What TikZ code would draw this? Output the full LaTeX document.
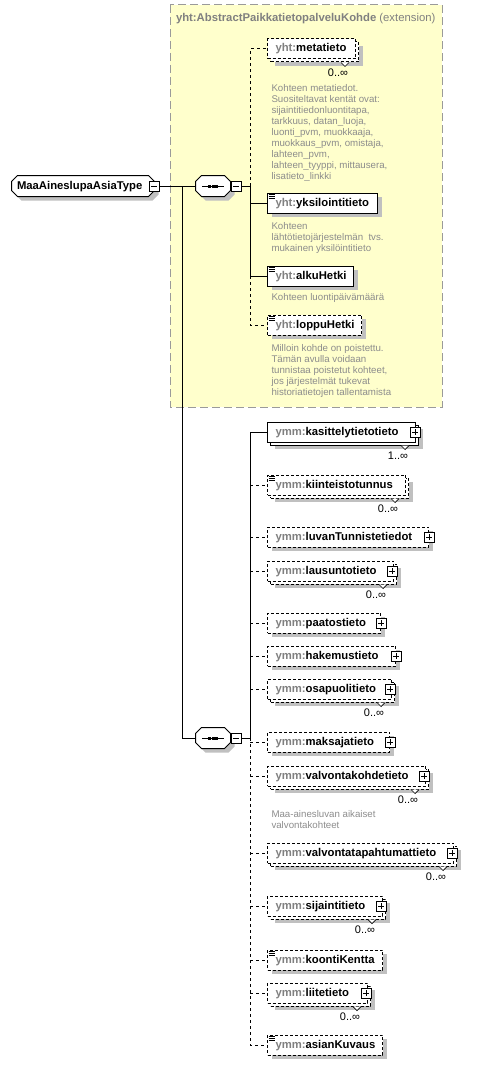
\documentclass[tikz,border=0pt]{standalone}
\usepackage{fontspec}
\setmainfont{Liberation Sans}
\usetikzlibrary{positioning, shapes.misc, shadows}

\definecolor{extyellow}{HTML}{FFFFCC}
\definecolor{extborder}{HTML}{9A9A9A}
\definecolor{pfxgray}{HTML}{808080}
\definecolor{docgray}{HTML}{8C8C8C}
\definecolor{shadowgray}{HTML}{C0C0C0}

\newcommand{\pfx}[1]{\textcolor{pfxgray}{#1}}
\newcommand{\lblfont}{\fontsize{11.3}{13}\selectfont\bfseries}
\newcommand{\docfont}{\fontsize{9.7}{11}\selectfont}
% octagon of a sequence compositor, drawn round its node
\newcommand{\seqsymbol}[1]{%
  \draw[seqshape] ([xshift=6pt]#1.north west) -- ([xshift=-6pt]#1.north east)
    -- ([yshift=-6pt]#1.north east) -- ([yshift=6pt]#1.south east)
    -- ([xshift=-6pt]#1.south east) -- ([xshift=6pt]#1.south west)
    -- ([yshift=6pt]#1.south west) -- ([yshift=-6pt]#1.north west) -- cycle;
  \draw ([xshift=-11pt]#1.center) -- ([xshift=11pt]#1.center);
  \foreach \dx in {-3.5,0,3.5}
    \fill ([xshift=\dx pt]#1.center) +(-1.5pt,-1.5pt) rectangle +(1.5pt,1.5pt);
}

\tikzset{
  elem/.style={
    draw,
    rectangle,
    fill=white,
    minimum height=20pt,
    inner xsep=8pt,
    inner ysep=0pt,
    text height=8pt,
    text depth=2pt,
    text width=#1,
    align=left,
    anchor=west,
    font=\lblfont
  },
  opt/.style={dash pattern=on 3pt off 2pt},
  single/.style={
    drop shadow={fill=shadowgray, opacity=1, shadow xshift=4pt, shadow yshift=-4pt}
  },
  multi/.style={
    drop shadow={fill=shadowgray, opacity=1, shadow xshift=7pt, shadow yshift=-7pt},
    copy shadow={draw=black, fill=white, shadow xshift=3pt, shadow yshift=-3pt}
  },
  simpletype/.style={
    path picture={
      \foreach \dy in {1.5,3.5,5.5}
        \draw[solid, line width=0.8pt] ([shift={(1pt,-\dy pt)}]path picture bounding box.north west) -- ++(6pt,0pt);
    }
  },
  expand/.style={
    draw,
    solid,
    rectangle,
    fill=white,
    minimum size=10pt,
    inner sep=0pt,
    path picture={
      \draw[solid] ([xshift=2pt]path picture bounding box.west) -- ([xshift=-2pt]path picture bounding box.east);
      \draw[solid] ([yshift=2pt]path picture bounding box.south) -- ([yshift=-2pt]path picture bounding box.north);
    }
  },
  collapse/.style={
    draw,
    rectangle,
    fill=white,
    minimum size=10pt,
    inner sep=0pt,
    path picture={
      \draw ([xshift=2pt]path picture bounding box.west) -- ([xshift=-2pt]path picture bounding box.east);
    }
  },
  roottype/.style={
    draw,
    chamfered rectangle,
    chamfered rectangle xsep=3pt,
    chamfered rectangle ysep=3pt,
    fill=white,
    minimum width=143pt,
    minimum height=21pt,
    inner xsep=2pt,
    inner ysep=0pt,
    text width=132pt,
    align=left,
    text height=8pt,
    text depth=2pt,
    anchor=west,
    font=\lblfont,
    single
  },
  seqgroup/.style={
    rectangle,
    minimum width=34pt,
    minimum height=20pt,
    inner sep=0pt
  },
  seqshape/.style={
    fill=white,
    drop shadow={fill=shadowgray, opacity=1, shadow xshift=4pt, shadow yshift=-4pt}
  },
  doc/.style={
    anchor=north west,
    inner sep=0pt,
    align=left,
    text=docgray,
    font=\docfont
  },
  occ/.style={inner sep=0pt, font=\fontsize{11}{13}\selectfont},
  notch/.style={fill=white, line width=0.7pt},
  optconn/.style={dash pattern=on 3pt off 3pt},
  extbox/.style={draw=extborder, fill=extyellow, dash pattern=on 8pt off 4pt}
}

\begin{document}
\begin{tikzpicture}[x=1pt, y=-1pt, line width=1pt]
    \useasboundingbox (0,0) rectangle (485,1065);

    % extension of the abstract base type
    \draw[extbox] (170,5) rectangle (442,407);
    \node[anchor=west, inner sep=0pt, text=pfxgray, font=\lblfont] (exttitle) at (175.5,19)
      {yht:AbstractPaikkatietopalveluKohde \mdseries(extension)};

    \node[roottype] (root) at (11,186) {MaaAineslupaAsiaType};
    \node[collapse] (rootm) at (154,186) {};

    \node[seqgroup] (seq1) at (213,186) {};
    \seqsymbol{seq1}
    \node[collapse] (seq1m) at (236,186) {};
    \node[seqgroup] (seq2) at (213,738) {};
    \seqsymbol{seq2}
    \node[collapse] (seq2m) at (236,738) {};

    % inherited elements
    \node[elem=72pt, opt, multi] (metatieto) at (267,49) {\pfx{yht:}metatieto};
    \node[elem=94pt, single, simpletype] (yksilointitieto) at (267,203) {\pfx{yht:}yksilointitieto};
    \node[elem=70pt, single, simpletype] (alkuHetki) at (267,276) {\pfx{yht:}alkuHetki};
    \node[elem=78pt, opt, single, simpletype] (loppuHetki) at (267,325) {\pfx{yht:}loppuHetki};

    \node[doc] (metatietodoc) at (271,84) {Kohteen metatiedot.\\Suositeltavat kentät ovat:\\sijaintitiedonluontitapa,\\tarkkuus, datan\_luoja,\\luonti\_pvm, muokkaaja,\\muokkaus\_pvm, omistaja,\\lahteen\_pvm,\\lahteen\_tyyppi, mittausera,\\lisatieto\_linkki};
    \node[doc] (yksilointitietodoc) at (271,222) {Kohteen\\lähtötietojärjestelmän\ \ tvs.\\mukainen yksilöintitieto};
    \node[doc] (alkuHetkidoc) at (271,293) {Kohteen luontipäivämäärä};
    \node[doc] (loppuHetkidoc) at (271,344) {Milloin kohde on poistettu.\\Tämän avulla voidaan\\tunnistaa poistetut kohteet,\\jos järjestelmät tukevat\\historiatietojen tallentamista};

    % own elements
    \node[elem=132pt, multi] (kasittelytietotieto) at (267,432) {\pfx{ymm:}kasittelytietotieto};
    \node[elem=122pt, opt, multi, simpletype] (kiinteistotunnus) at (267,485) {\pfx{ymm:}kiinteistotunnus};
    \node[elem=145pt, opt, single] (luvanTunnistetiedot) at (267,537) {\pfx{ymm:}luvanTunnistetiedot};
    \node[elem=110pt, opt, multi] (lausuntotieto) at (267,571) {\pfx{ymm:}lausuntotieto};
    \node[elem=97pt, opt, single] (paatostieto) at (267,623) {\pfx{ymm:}paatostieto};
    \node[elem=112pt, opt, single] (hakemustieto) at (267,656) {\pfx{ymm:}hakemustieto};
    \node[elem=108pt, opt, multi] (osapuolitieto) at (267,689) {\pfx{ymm:}osapuolitieto};
    \node[elem=106pt, opt, single] (maksajatieto) at (267,742) {\pfx{ymm:}maksajatieto};
    \node[elem=142pt, opt, multi] (valvontakohdetieto) at (267,776) {\pfx{ymm:}valvontakohdetieto};
    \node[elem=170pt, opt, multi] (valvontatapahtumattieto) at (267,853) {\pfx{ymm:}valvontatapahtumattieto};
    \node[elem=99pt, opt, multi] (sijaintitieto) at (267,906) {\pfx{ymm:}sijaintitieto};
    \node[elem=99pt, opt, single, simpletype] (koontiKentta) at (267,960) {\pfx{ymm:}koontiKentta};
    \node[elem=84pt, opt, multi] (liitetieto) at (267,993) {\pfx{ymm:}liitetieto};
    \node[elem=99pt, opt, single, simpletype] (asianKuvaus) at (267,1045) {\pfx{ymm:}asianKuvaus};

    \node[doc] (valvontakohdetietodoc) at (271,810) {Maa-ainesluvan aikaiset\\valvontakohteet};

    % expand boxes
    \foreach \n/\dx in {kasittelytietotieto/-1, luvanTunnistetiedot/0, lausuntotieto/-2,
        paatostieto/0, hakemustieto/0, osapuolitieto/-2, maksajatieto/0,
        valvontakohdetieto/-2, valvontatapahtumattieto/-2, sijaintitieto/-2, liitetieto/-2}
      \node[expand] (\n-exp) at ([xshift=\dx pt]\n.east) {};

    % occurrences
    \foreach \n/\lo in {metatieto/0, kasittelytietotieto/1, kiinteistotunnus/0, lausuntotieto/0,
        osapuolitieto/0, valvontakohdetieto/0, valvontatapahtumattieto/0, sijaintitieto/0, liitetieto/0} {
      \draw[notch] ([shift={(-15pt,-3pt)}]\n.south east) -- ++(4pt,-4pt) -- ++(4pt,4pt);
      \node[occ] (\n-occ) at ([xshift=-18pt, yshift=-13pt]\n.south east) {\lo..∞};
    }

    % connectors
    \coordinate (fork) at (182,186);
    \coordinate (bus1) at (250,186);
    \coordinate (bus2) at (250,738);
    \draw (rootm.east) -- (seq1.west);
    \draw (fork) |- (seq2.west);
    \draw (seq1m.east) -- (bus1);
    \draw (seq2m.east) -- (bus2);

    \draw[optconn] (bus1) |- (metatieto.west);
    \draw (bus1) |- (yksilointitieto.west);
    \draw (bus1) |- (alkuHetki.west);
    \draw[optconn] (alkuHetki.west -| bus1) |- (loppuHetki.west);

    \draw (bus2) |- (kasittelytietotieto.west);
    \foreach \n in {kiinteistotunnus, luvanTunnistetiedot, lausuntotieto, paatostieto, hakemustieto,
        osapuolitieto, maksajatieto, valvontakohdetieto, valvontatapahtumattieto, sijaintitieto,
        koontiKentta, liitetieto}
      \draw[optconn] (\n.west -| bus2) -- (\n.west);
    \draw[optconn] (bus2) |- (asianKuvaus.west);
\end{tikzpicture}
\end{document}
